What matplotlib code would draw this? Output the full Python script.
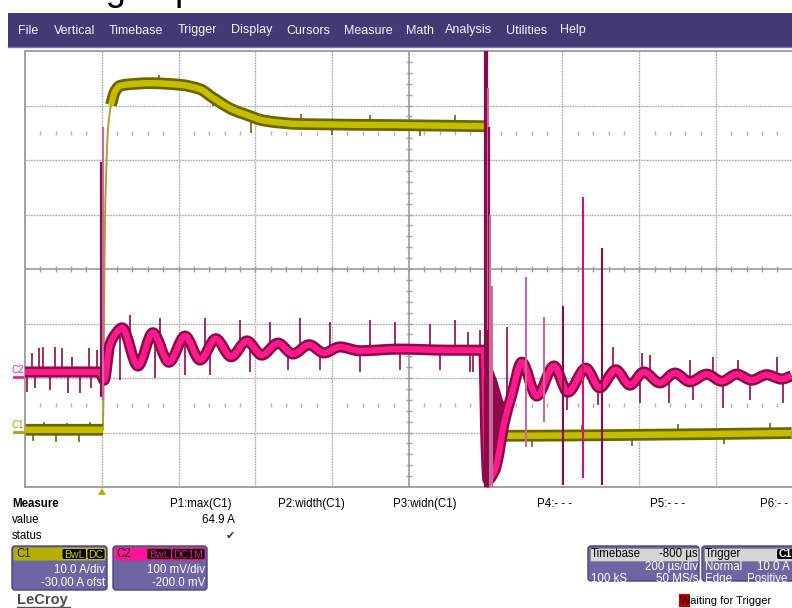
import matplotlib
matplotlib.use("Agg")
import matplotlib.pyplot as plt
from matplotlib.patches import Rectangle, FancyBboxPatch, Polygon, PathPatch
from matplotlib.path import Path
import numpy as np

plt.rcParams["font.family"] = ["Liberation Sans", "DejaVu Sans"]

# scope settings, as shown in the channel / timebase boxes
C1_SCALE, C1_OFFSET = 10.0, -30.0      # A/div, A
C2_SCALE, C2_OFFSET = 100.0, -200.0    # mV/div, mV
T_DIV, T_LEFT = 200.0, -200.0          # us/div, time at left edge

# C1: load current (A), centre of the trace band
c1_time = [-200, 3, 6, 8, 11, 16, 24, 34, 47, 73, 125, 204, 256, 290, 342, 373,
           425, 516, 777, 998, 1003, 1011, 1027, 1042, 1050, 1297, 1797]
c1_amps = [0.5, 0.5, 20.6, 37.2, 46.3, 55.5, 60.1, 62.5, 63.6, 63.9, 64.1, 63.8,
           63.0, 61.4, 59.2, 58.4, 57.2, 56.6, 56.4, 56.2, -12, -10.2, -4.1, 0.1,
           -0.6, -0.5, -0.1]

# C2: voltage (mV), centre of the trace band
c2_time = [-200, -5, 6, 21, 34, 53, 94, 133, 175, 217, 256, 297, 337, 378, 417,
           459, 498, 540, 579, 620, 672, 777, 907, 995, 1001, 1006, 1024, 1050,
           1068, 1094, 1133, 1178, 1214, 1261, 1297, 1339, 1376, 1412, 1454, 1493,
           1532, 1576, 1615, 1654, 1693, 1732, 1771, 1797]
c2_mv = [11, 11, -4, 61, 79, 92, 22, 83, 29, 77, 33, 72, 39, 68, 42, 64, 44, 61,
         46, 57, 50, 53, 51, 51, -120, -187, -169, -77, -31, 29, -33, 22, -26, 18,
         -18, 15, -13, 11, -9, 9, -7, 7, -6, 7, -4, 6, -2, 4]

# C2 noise spikes: time (us) and tip (mV)
spike_t = [-195, -182, -174, -164, -153, -135, -122, -104, -88, -78, -57, -33,
           -28, -13, 47, 73, 139, 152, 217, 269, 282, 360, 386, 438, 485, 516,
           568, 594, 672, 698, 764, 777, 855, 881, 920, 954, 959, 967, 985,
           1055, 1212, 1292, 1331, 1402, 1407, 1428, 1477, 1532, 1540, 1592,
           1618, 1657, 1688, 1758, 1774]
spike_mv = [-26, 46, -18, 55, 57, -22, 57, 55, -28, 39, -28, 55, -18, 51, -4,
            116, 0, 110, 6, 110, 6, 106, 11, 103, 15, 110, 15, 103, 11, 106, 103,
            15, 99, 15, 106, 84, 11, 11, 88, 94, -59, -50, 57, -46, 46, 42, -46,
            33, -40, 39, -55, 33, -40, 39, -46]

# C2 tall transients: time (us), top (mV), bottom (mV), shade
tall_t = [-1, 2, 1000, 1006, 1008, 1011, 1016, 1105, 1152, 1201, 1253, 1303]
tall_top = [396, 461, 600, 532, 461, 299, 169, 185, 112, 132, 332, 239]
tall_bot = [-35, -40, -200, 88, -200, -200, -200, -127, -81, -196, -184, -196]
tall_shade = ["dark", "light", "dark", "light", "dark", "light", "light",
              "light", "light", "dark", "pink", "dark"]

# ringing envelope right after turn-off (mV)
ring_t = [1000, 1008, 1016, 1029, 1044, 1060]
ring_hi = [88, 70, 20, -4, -40, -59]
ring_lo = [-200, -200, -187, -150, -95, -68]

# C1 small spikes: time (us) and tip (A)
c1_spk_t = [-180, -150, -120, -90, -60, -30, 150, 290, 390, 520, 600, 700, 830,
            920, 1120, 1250, 1380, 1500, 1620, 1740]
c1_spk_a = [-1.6, 2.0, -1.8, 1.8, -1.7, 2.0, 65.6, 60.0, 55.0, 58.4, 54.5, 58.3,
            54.4, 58.2, -2.6, 1.4, -2.4, 1.6, -2.2, 1.8]

PINK, PINK_DK, PINK_LT = "#ff1a8c", "#8c0a4b", "#c96a9c"
YEL, YEL_DK = "#c4bd00", "#6b6600"
PURPLE, PANEL = "#433a73", "#6e65a3"


def c1_div(a):
    return (np.asarray(a, float) + C1_OFFSET) / C1_SCALE


def c2_div(v):
    return (np.asarray(v, float) + C2_OFFSET) / C2_SCALE


def smooth_path(t, y):
    """Monotone cubic (PCHIP-style) Bezier path through the read points."""
    t = np.asarray(t, float)
    y = np.asarray(y, float)
    h = np.diff(t)
    d = np.diff(y) / h
    m = np.zeros_like(y)
    m[0], m[-1] = d[0], d[-1]
    for k in range(1, len(y) - 1):
        if d[k - 1] * d[k] > 0:
            w1 = 2 * h[k] + h[k - 1]
            w2 = h[k] + 2 * h[k - 1]
            m[k] = (w1 + w2) / (w1 / d[k - 1] + w2 / d[k])
    verts = [(t[0], y[0])]
    for k in range(len(h)):
        verts += [(t[k] + h[k] / 3, y[k] + m[k] * h[k] / 3),
                  (t[k + 1] - h[k] / 3, y[k + 1] - m[k + 1] * h[k] / 3),
                  (t[k + 1], y[k + 1])]
    codes = [Path.MOVETO] + [Path.CURVE4] * (3 * len(h))
    return Path(verts, codes)


def trace(axis, t, y, color, lw, z):
    axis.add_patch(PathPatch(smooth_path(t, y), fc="none", ec=color, lw=lw,
                             capstyle="butt", joinstyle="round", zorder=z))


fig = plt.figure(figsize=(7.92, 6.08), dpi=100)

# pixel-space overlay for the instrument UI
ui = fig.add_axes([0, 0, 1, 1])
ui.set_xlim(0, 792)
ui.set_ylim(608, 0)
ui.axis("off")

# title above the screenshot, cut off by the top edge
ui.text(24, 0.5, "Voltage spike", fontsize=26.5, va="baseline", ha="left",
        color="black", clip_on=True)

# menu bar
ui.add_patch(Rectangle((8, 13), 784, 34, color=PURPLE, lw=0, zorder=3))
ui.plot([8, 792], [46.5, 46.5], color="#7a72aa", lw=1, zorder=3)
menu = ["File", "Vertical", "Timebase", "Trigger", "Display", "Cursors",
        "Measure", "Math", "Analysis", "Utilities", "Help"]
menu_x = [18, 54, 109, 178, 231, 286, 344, 406, 445, 506, 560]
for name, x in zip(menu, menu_x):
    ui.text(x, 30.5, name, color="#f4f4fa", fontsize=9, va="center", ha="left",
            zorder=4)

# ---- scope screen
ax = fig.add_axes([25 / 792, (608 - 487) / 608, 767 / 792, 436 / 608])
ax.set_xlim(T_LEFT, T_LEFT + 9.99 * T_DIV)
ax.set_ylim(-4, 4)
ax.set_xticks([])
ax.set_yticks([])
ax.spines["right"].set_visible(False)
for s in ["left", "top", "bottom"]:
    ax.spines[s].set_color("#9a9a9a")
    ax.spines[s].set_linewidth(1.3)

t_centre = T_LEFT + 5 * T_DIV
for k in range(1, 10):
    if k == 5:
        continue
    t = T_LEFT + k * T_DIV
    ax.axvline(t, color="#e2e2e2", lw=1.0, zorder=0)
    ax.axvline(t, color="#a8a8a8", lw=0.9, ls=(0, (1, 1.2)), zorder=0)
for k in [-3, -2, -1, 1, 2, 3]:
    ax.axhline(k, color="#e2e2e2", lw=1.0, zorder=0)
    ax.axhline(k, color="#a8a8a8", lw=0.9, ls=(0, (1, 1.2)), zorder=0)
ax.axhline(0, color="#a9a9a9", lw=1.4, zorder=0)
ax.axvline(t_centre, color="#a9a9a9", lw=1.4, zorder=0)

minor_t = T_LEFT + np.arange(1, 50) * T_DIV / 5
ax.vlines(minor_t, -0.06, 0.06, color="#a0a0a0", lw=1.0, zorder=0)
minor_y = -4 + np.arange(1, 40) * 0.2
ax.hlines(minor_y, t_centre - 8, t_centre + 8, color="#a0a0a0", lw=1.0, zorder=0)
dot_t = [t for i, t in enumerate(minor_t) if (i + 1) % 5]
for yy in [2.5, -2.5]:
    ax.plot(dot_t, [yy] * len(dot_t), ls="none", marker="|", ms=2.5,
            color="#b0b0b0", mew=1.0, zorder=0)

# ---- C1 trace
c1t = np.array(c1_time)
c1y = c1_div(c1_amps)
steady = [(0, 2), (6, 20), (23, len(c1t))]
trace(ax, c1t, c1y, "#a8a235", 1.4, 2)
for a, b in steady:
    trace(ax, c1t[a:b], c1y[a:b], YEL_DK, 8.5, 2)
ax.vlines(c1_spk_t, np.interp(c1_spk_t, c1t, c1y), c1_div(c1_spk_a),
          color=YEL_DK, lw=1.2, zorder=2)
for a, b in steady:
    trace(ax, c1t[a:b], c1y[a:b], YEL, 4.6, 3)

# ---- C2 trace
c2t = np.array(c2_time)
c2y = c2_div(c2_mv)
ax.fill_between(ring_t, c2_div(ring_lo), c2_div(ring_hi), color=PINK_DK,
                lw=0, zorder=4)
trace(ax, c2t, c2y, PINK_DK, 8.0, 4)
ax.vlines(spike_t, np.interp(spike_t, c2t, c2y), c2_div(spike_mv),
          color=PINK_DK, lw=1.2, zorder=4)
trace(ax, c2t, c2y, PINK, 4.4, 5)
shade_col = {"dark": PINK_DK, "light": PINK_LT, "pink": "#d0156f"}
for t, top, bot, sh in zip(tall_t, tall_top, tall_bot, tall_shade):
    ax.vlines(t, c2_div(bot), c2_div(top), color=shade_col[sh],
              lw=3.0 if t == 1000 else 1.5, zorder=6)

# channel markers and trigger arrow (outside the grid)
ui.text(12, 425, "C1", color="#aaa300", fontsize=7, va="center")
ui.plot([14, 25], [431.5, 431.5], color="#aaa300", lw=2)
ui.text(12, 370, "C2", color="#ff1a8c", fontsize=7, va="center")
ui.plot([14, 25], [376.5, 376.5], color="#ff1a8c", lw=2)
ui.add_patch(Polygon([[98, 495], [106, 495], [102, 488]], closed=True,
                     color="#b5b000", lw=0))

# ---- measure table
ui.text(12, 504, "Measure", fontsize=8.3, fontweight="bold", va="center")
ui.text(12, 520, "value", fontsize=8.3, va="center")
ui.text(12, 536, "status", fontsize=8.3, va="center")
meas = ["P1:max(C1)", "P2:width(C1)", "P3:widn(C1)", "P4:- - -", "P5:- - -", "P6:- -"]
meas_x = [170, 278, 393, 537, 650, 760]
for name, x in zip(meas, meas_x):
    ui.text(x, 504, name, fontsize=8.3, va="center")
ui.text(235, 520, "64.9 A", fontsize=8.3, va="center", ha="right")
ui.text(235, 536, "\u2714", fontsize=8, va="center", ha="right", color="#333333",
        family=["DejaVu Sans"])


def panel(x0, x1, head_col):
    ui.add_patch(FancyBboxPatch((x0, 546), x1 - x0, 44,
                                boxstyle="round,pad=0,rounding_size=3",
                                fc=PANEL, ec="#4b4285", lw=1.0))
    ui.add_patch(FancyBboxPatch((x0 + 1.5, 547.5), x1 - x0 - 3, 13,
                                boxstyle="round,pad=0,rounding_size=2",
                                fc=head_col, ec="none"))


def tag(x0, x1, txt, col):
    ui.add_patch(FancyBboxPatch((x0, 548.5), x1 - x0, 11,
                                boxstyle="round,pad=0,rounding_size=2",
                                fc="black", ec=col, lw=0.6))
    ui.text((x0 + x1) / 2, 554.5, txt, color=col, fontsize=7.6, ha="center",
            va="center")


panel(12, 107, "#b5b000")
ui.text(16, 554, "C1", fontsize=8.3, va="center", color="#222222")
tag(62, 86.5, "BwL", "#d8d000")
tag(87, 105, "DC", "#d8d000")
ui.text(105, 570, "10.0 A/div", fontsize=8.3, color="white", ha="right", va="center")
ui.text(105, 583, "-30.00 A ofst", fontsize=8.3, color="white", ha="right", va="center")

panel(113, 207, "#ff1493")
ui.text(116, 554, "C2", fontsize=8.3, va="center", color="#222222")
tag(147, 171.5, "BwL", "#ff1493")
tag(172, 205, "DC1M", "#ff1493")
ui.text(205, 570, "100 mV/div", fontsize=8.3, color="white", ha="right", va="center")
ui.text(205, 583, "-200.0 mV", fontsize=8.3, color="white", ha="right", va="center")

# timebase / trigger boxes
ui.add_patch(FancyBboxPatch((588, 546), 111, 35,
                            boxstyle="round,pad=0,rounding_size=3",
                            fc=PANEL, ec="#4b4285", lw=1.0))
ui.add_patch(Rectangle((589.5, 547.5), 108, 13, fc="#d6d6d6", ec="#8a8a8a", lw=0.6))
ui.text(591, 554, "Timebase", fontsize=8.3, va="center")
ui.text(698, 554, "-800 \u00b5s", fontsize=8.3, va="center", ha="right")
ui.text(698, 567, "200 \u00b5s/div", fontsize=8.3, va="center", ha="right", color="white")
ui.text(591, 579, "100 kS", fontsize=8.3, va="center", color="white")
ui.text(698, 579, "50 MS/s", fontsize=8.3, va="center", ha="right", color="white")

ui.add_patch(FancyBboxPatch((702, 546), 110, 35,
                            boxstyle="round,pad=0,rounding_size=3",
                            fc=PANEL, ec="#4b4285", lw=1.0))
ui.add_patch(Rectangle((703.5, 547.5), 107, 13, fc="#d6d6d6", ec="#8a8a8a", lw=0.6))
ui.text(705, 554, "Trigger", fontsize=8.3, va="center")
ui.add_patch(FancyBboxPatch((777, 549), 20, 10,
                            boxstyle="round,pad=0,rounding_size=2",
                            fc="black", ec="none"))
ui.text(779, 554, "C1", fontsize=7.6, va="center", color="white", fontweight="bold")
ui.text(705, 567, "Normal", fontsize=8.3, va="center", color="white")
ui.text(757, 567, "10.0 A", fontsize=8.3, va="center", color="white")
ui.text(705, 579, "Edge", fontsize=8.3, va="center", color="white")
ui.text(747, 579, "Positive", fontsize=8.3, va="center", color="white")

# status line and logo
ui.add_patch(Rectangle((679, 594), 11, 13, fc="#c00000", ec="none"))
ui.text(680, 601, "Waiting for Trigger", fontsize=8, va="center")
ui.text(17, 600, "LeCroy", fontsize=10.5, va="center", color="#4a4a4a",
        fontweight="bold")
ui.plot([17, 70], [607, 607], color="#555555", lw=1)

fig.savefig("out.png", dpi=100)
